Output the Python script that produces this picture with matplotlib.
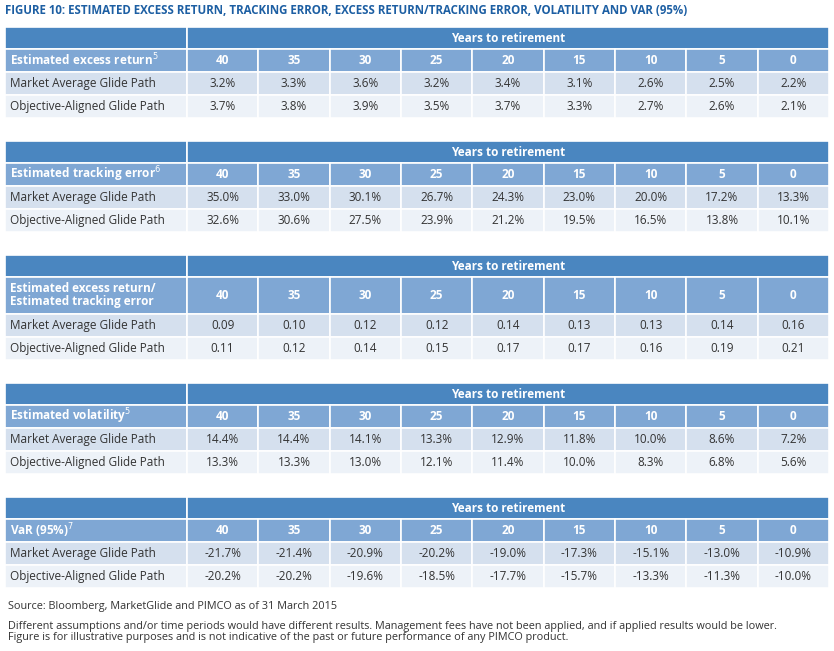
import matplotlib
matplotlib.use("Agg")
import matplotlib.pyplot as plt
from matplotlib.patches import Rectangle

plt.rcParams['font.family'] = ['Open Sans', 'DejaVu Sans']

years = ["40", "35", "30", "25", "20", "15", "10", "5", "0"]
row_names = ["Market Average Glide Path", "Objective-Aligned Glide Path"]

excess_mkt = ["3.2%", "3.3%", "3.6%", "3.2%", "3.4%", "3.1%", "2.6%", "2.5%", "2.2%"]
excess_obj = ["3.7%", "3.8%", "3.9%", "3.5%", "3.7%", "3.3%", "2.7%", "2.6%", "2.1%"]
te_mkt = ["35.0%", "33.0%", "30.1%", "26.7%", "24.3%", "23.0%", "20.0%", "17.2%", "13.3%"]
te_obj = ["32.6%", "30.6%", "27.5%", "23.9%", "21.2%", "19.5%", "16.5%", "13.8%", "10.1%"]
ratio_mkt = ["0.09", "0.10", "0.12", "0.12", "0.14", "0.13", "0.13", "0.14", "0.16"]
ratio_obj = ["0.11", "0.12", "0.14", "0.15", "0.17", "0.17", "0.16", "0.19", "0.21"]
vol_mkt = ["14.4%", "14.4%", "14.1%", "13.3%", "12.9%", "11.8%", "10.0%", "8.6%", "7.2%"]
vol_obj = ["13.3%", "13.3%", "13.0%", "12.1%", "11.4%", "10.0%", "8.3%", "6.8%", "5.6%"]
var_mkt = ["-21.7%", "-21.4%", "-20.9%", "-20.2%", "-19.0%", "-17.3%", "-15.1%", "-13.0%", "-10.9%"]
var_obj = ["-20.2%", "-20.2%", "-19.6%", "-18.5%", "-17.7%", "-15.7%", "-13.3%", "-11.3%", "-10.0%"]

tables = [
    ("Estimated excess return$^5$", excess_mkt, excess_obj, 27, 23),
    ("Estimated tracking error$^6$", te_mkt, te_obj, 141, 23),
    ("Estimated excess return/\nEstimated tracking error", ratio_mkt, ratio_obj, 255, 37),
    ("Estimated volatility$^5$", vol_mkt, vol_obj, 383, 23),
    ("VaR (95%)$^7$", var_mkt, var_obj, 497, 23),
]

dark = "#4a86c0"
mid = "#7fa7d4"
row1 = "#d5e0ee"
row2 = "#edf2f8"

fig = plt.figure(figsize=(8.34, 6.51), dpi=100)
ax = fig.add_axes([0, 0, 1, 1])
ax.set_xlim(0, 834)
ax.set_ylim(651, 0)
ax.axis("off")

x0, x1, first_w = 5, 829, 182
col_w = (x1 - x0 - first_w) / len(years)


def cell(x, y, w, h, color):
    ax.add_patch(Rectangle((x, y), w, h, facecolor=color, edgecolor="white", lw=1.2))


ax.text(5, 11, "FIGURE 10: ESTIMATED EXCESS RETURN, TRACKING ERROR, EXCESS RETURN/TRACKING ERROR, VOLATILITY AND VAR (95%)",
        fontsize=8.3, fontweight="bold", color="#1d5fa3", va="center")

for title, mkt, obj, top, hh in tables:
    th = 22
    cell(x0, top, first_w, th, dark)
    cell(x0 + first_w, top, x1 - x0 - first_w, th, dark)
    ax.text(x0 + first_w + (x1 - x0 - first_w) / 2, top + th / 2, "Years to retirement",
            color="white", fontsize=8.5, fontweight="bold", ha="center", va="center")
    y = top + th
    cell(x0, y, first_w, hh, mid)
    ax.text(x0 + 5, y + hh / 2, title, color="white", fontsize=8.5, fontweight="bold",
            va="center", linespacing=1.0)
    for i, yr in enumerate(years):
        cx = x0 + first_w + i * col_w
        cell(cx, y, col_w, hh, mid)
        ax.text(cx + col_w / 2, y + hh / 2, yr, color="white", fontsize=8.5,
                fontweight="bold", ha="center", va="center")
    y += hh
    for name, vals, color in [(row_names[0], mkt, row1), (row_names[1], obj, row2)]:
        cell(x0, y, first_w, 23, color)
        ax.text(x0 + 5, y + 11.5, name, fontsize=8.5, color="#333333", va="center")
        for i, v in enumerate(vals):
            cx = x0 + first_w + i * col_w
            cell(cx, y, col_w, 23, color)
            ax.text(cx + col_w / 2, y + 11.5, v, fontsize=8.5, color="#333333",
                    ha="center", va="center")
        y += 23

ax.text(8, 606, "Source: Bloomberg, MarketGlide and PIMCO as of 31 March 2015",
        fontsize=7.8, color="#333333", va="center")
ax.text(8, 632, "Different assumptions and/or time periods would have different results. Management fees have not been applied, and if applied results would be lower.\n"
        "Figure is for illustrative purposes and is not indicative of the past or future performance of any PIMCO product.",
        fontsize=7.8, color="#333333", va="center", linespacing=1.0)

fig.savefig("out.png", dpi=100)
